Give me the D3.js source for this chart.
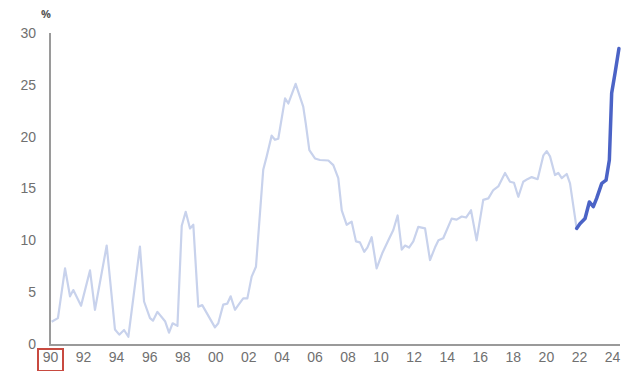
<!DOCTYPE html>
<html>
<head>
<meta charset="utf-8">
<script src="https://cdn.jsdelivr.net/npm/d3@7"></script>
<style>
  body { margin: 0; background: #fff; }
  svg { display: block; font-family: "Open Sans", "Noto Sans", sans-serif; }
</style>
</head>
<body>
<div id="chart-area"></div>
<script>
// time in decimal years, values in %
var pastTimes = [1990.10, 1990.48, 1990.91, 1991.21, 1991.41, 1991.88, 1992.42, 1992.72, 1993.43, 1993.93,
    1994.19, 1994.48, 1994.74, 1995.44, 1995.69, 1996.05, 1996.23, 1996.50, 1996.96, 1997.20,
    1997.42, 1997.71, 1997.97, 1998.21, 1998.47, 1998.67, 1998.97, 1999.21, 1999.98, 2000.18,
    2000.48, 2000.73, 2000.93, 2001.19, 2001.39, 2001.69, 2001.94, 2002.20, 2002.46, 2002.90,
    2003.11, 2003.41, 2003.61, 2003.81, 2004.22, 2004.42, 2004.86, 2005.32, 2005.47, 2005.69,
    2006.03, 2006.33, 2006.84, 2007.14, 2007.44, 2007.65, 2007.95, 2008.25, 2008.51, 2008.75,
    2009.01, 2009.20, 2009.46, 2009.76, 2010.10, 2010.47, 2010.77, 2011.03, 2011.28, 2011.48,
    2011.72, 2011.98, 2012.28, 2012.69, 2012.99, 2013.29, 2013.50, 2013.79, 2014.30, 2014.60,
    2014.91, 2015.17, 2015.47, 2015.81, 2016.21, 2016.52, 2016.82, 2017.12, 2017.53, 2017.83,
    2018.07, 2018.33, 2018.63, 2018.88, 2019.14, 2019.50, 2019.85, 2020.05, 2020.25, 2020.55,
    2020.75, 2020.96, 2021.26, 2021.46, 2021.86];
var pastValues = [2.15, 2.5, 7.3, 4.6, 5.2, 3.7, 7.1, 3.3, 9.5, 1.4,
    0.9, 1.35, 0.7, 9.4, 4.1, 2.5, 2.25, 3.1, 2.2, 1.1,
    2.0, 1.75, 11.4, 12.75, 11.15, 11.5, 3.6, 3.75, 1.6, 2.0,
    3.8, 3.9, 4.6, 3.3, 3.75, 4.4, 4.4, 6.5, 7.45, 16.8,
    18.1, 20.1, 19.7, 19.8, 23.7, 23.2, 25.1, 22.9, 21.3, 18.7,
    17.9, 17.75, 17.7, 17.25, 16.0, 12.9, 11.5, 11.8, 9.9, 9.8,
    8.9, 9.3, 10.3, 7.3, 8.75, 10.0, 11.0, 12.4, 9.1, 9.5,
    9.3, 9.9, 11.3, 11.15, 8.1, 9.3, 10.0, 10.2, 12.1, 12.0,
    12.3, 12.2, 12.9, 10.0, 13.9, 14.05, 14.85, 15.2, 16.5, 15.65,
    15.55, 14.2, 15.65, 15.9, 16.1, 15.9, 18.2, 18.6, 18.1, 16.3,
    16.5, 16.0, 16.4, 15.5, 11.15];

var recentTimes = [2021.86, 2022.06, 2022.37, 2022.63, 2022.87, 2023.07, 2023.38, 2023.64, 2023.84, 2023.98, 2024.18, 2024.42];
var recentValues = [11.15, 11.6, 12.1, 13.7, 13.25, 14.05, 15.5, 15.8, 17.75, 24.2, 26.1, 28.5];

var yTicks = [0, 5, 10, 15, 20, 25, 30];
var xTicks = [1990, 1992, 1994, 1996, 1998, 2000, 2002, 2004, 2006, 2008, 2010, 2012, 2014, 2016, 2018, 2020, 2022, 2024];

var width = 624, height = 371;

var svg = d3.select("#chart-area").append("svg")
    .attr("width", width)
    .attr("height", height);

var x = d3.scaleLinear().domain([1990, 2024]).range([50, 612]);
var y = d3.scaleLinear().domain([0, 30]).range([344, 33]);

var line = d3.line()
    .x(d => x(d[0]))
    .y(d => y(d[1]));

var past = pastTimes.map((t, i) => [t, pastValues[i]]);
var recent = recentTimes.map((t, i) => [t, recentValues[i]]);

svg.append("path")
    .datum(past)
    .attr("d", line)
    .attr("fill", "none")
    .attr("stroke", "#c8d2ec")
    .attr("stroke-width", 2.2)
    .attr("stroke-linejoin", "round");

svg.append("path")
    .datum(recent)
    .attr("d", line)
    .attr("fill", "none")
    .attr("stroke", "#4b63c6")
    .attr("stroke-width", 3.5)
    .attr("stroke-linejoin", "round")
    .attr("stroke-linecap", "round");

// y axis
var yAxis = svg.append("g")
    .attr("transform", "translate(50,0)")
    .call(d3.axisLeft(y).tickValues(yTicks).tickSize(0).tickPadding(14));
yAxis.select(".domain").attr("stroke", "#9a9a9a").attr("stroke-width", 2)
    .attr("d", "M0," + y(30) + "V" + (y(0) + 1));
yAxis.selectAll("text").attr("fill", "#707070").style("font-size", "14px");

// x axis
var xAxis = svg.append("g")
    .attr("transform", "translate(0,345)")
    .call(d3.axisBottom(x).tickValues(xTicks).tickSize(0).tickPadding(7)
        .tickFormat(d => d3.format("02")(d % 100)));
xAxis.select(".domain").attr("stroke", "#9a9a9a").attr("stroke-width", 2)
    .attr("d", "M49,0H620");
xAxis.selectAll("text").attr("fill", "#707070").style("font-size", "14px");

// unit label
svg.append("text")
    .attr("x", 46)
    .attr("y", 18)
    .attr("text-anchor", "middle")
    .attr("fill", "#555")
    .style("font-size", "11px")
    .style("font-weight", "bold")
    .text("%");

// red box around first label
svg.append("rect")
    .attr("x", x(1990) - 12)
    .attr("y", 349)
    .attr("width", 25)
    .attr("height", 22)
    .attr("fill", "none")
    .attr("stroke", "#c84a40")
    .attr("stroke-width", 2);
</script>
</body>
</html>
